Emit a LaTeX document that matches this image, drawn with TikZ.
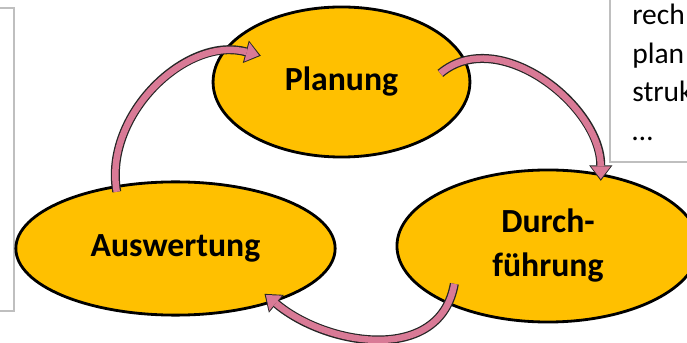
\documentclass[tikz,border=0pt]{standalone}
\usepackage{fontspec}
\setmainfont{Carlito}
\usepackage{xcolor}
\definecolor{ffc000}{HTML}{FFC000}
\definecolor{d97a96}{HTML}{D97A96}
\definecolor{bfbfbf}{HTML}{BFBFBF}
\usepackage{tikz}
\usetikzlibrary{shapes.geometric}
\usetikzlibrary{arrows.meta}
\usetikzlibrary{calc}

\tikzset{
  phase/.style={ellipse, draw=black, line width=2pt, fill=ffc000, inner sep=0pt,
    align=center, font=\fontsize{24}{31.3}\selectfont\bfseries},
  cyclearrow/.style={line width=4.6pt, color=d97a96, shorten >=1.3pt,
    -{Triangle[width=14pt, length=9pt, line width=0pt 0]},
    preaction={draw=black!85, line width=6.4pt, shorten >=0pt,
      -{Triangle[width=16.5pt, length=11pt, line width=0pt 0]}}},
  notebox/.style={draw=bfbfbf, line width=0.8pt},
}

\begin{document}
\begin{tikzpicture}[x=0.025cm, y=0.025cm]
            \useasboundingbox (0, 0) rectangle (687, 343);

            \draw[notebox] (-5, 335) rectangle (14, 32);
            \draw[notebox] (610, 348) rectangle (700, 181);
            \node (notes) at (632, 339) [anchor=north west, inner sep=0pt, align=left,
                font=\fontsize{21}{27.4}\selectfont] {rech\\plan\\struk\\…};

            \node (plan) at (341.5, 261) [phase, minimum width=6.42cm, minimum height=3.75cm] {Planung};
            \node (aus) at (175.5, 94.5) [phase, minimum width=7.98cm, minimum height=3.33cm] {Auswertung};
            \node (durch) at (548, 97) [phase, minimum width=7.55cm, minimum height=3.8cm] {Durch-\\führung};

            \draw[cyclearrow] ($(aus.center)!0.91!(aus.136)$) to[out=100, in=165] ($(plan.center)!0.71!(plan.162)$);
            \draw[cyclearrow] ($(plan.center)!0.77!(plan.5)$) to[out=40, in=90] ($(durch.center)!0.91!(durch.51)$);
            \draw[cyclearrow] ($(durch.center)!0.785!(durch.202)$) to[out=260, in=320, looseness=1.1] ($(aus.center)!0.866!(aus.333)$);
        \end{tikzpicture}
\end{document}
